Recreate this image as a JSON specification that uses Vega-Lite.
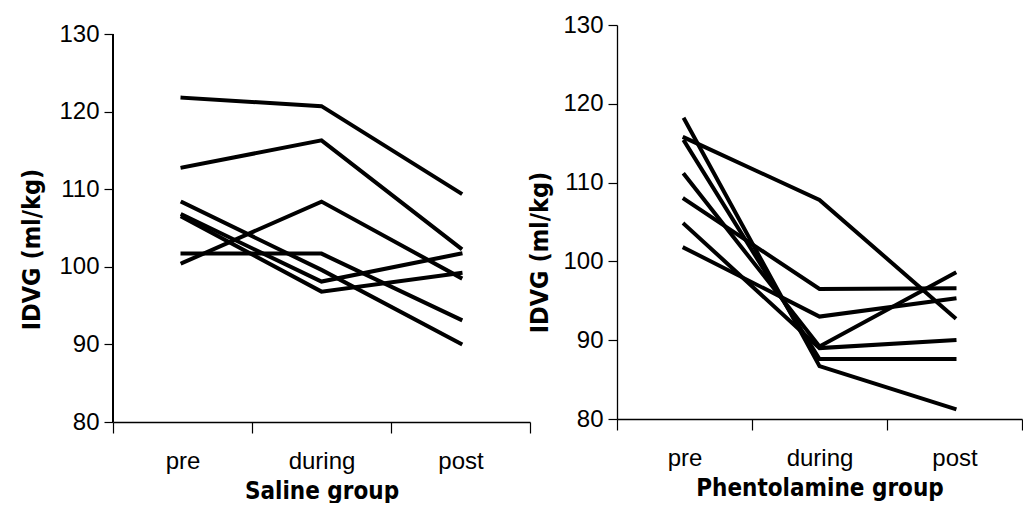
{
  "$schema": "https://vega.github.io/schema/vega-lite/v6.json",
  "background": "white",
  "padding": {"left": 19, "top": 13, "right": 0, "bottom": 0},
  "spacing": -4,
  "datasets": {
    "saline": [
      {"subject": "S1", "phase": "pre", "value": 121.8},
      {"subject": "S1", "phase": "during", "value": 120.7},
      {"subject": "S1", "phase": "post", "value": 109.5},
      {"subject": "S2", "phase": "pre", "value": 112.8},
      {"subject": "S2", "phase": "during", "value": 116.3},
      {"subject": "S2", "phase": "post", "value": 102.4},
      {"subject": "S3", "phase": "pre", "value": 100.5},
      {"subject": "S3", "phase": "during", "value": 108.4},
      {"subject": "S3", "phase": "post", "value": 98.6},
      {"subject": "S4", "phase": "pre", "value": 101.7},
      {"subject": "S4", "phase": "during", "value": 101.7},
      {"subject": "S4", "phase": "post", "value": 93.2},
      {"subject": "S5", "phase": "pre", "value": 108.3},
      {"subject": "S5", "phase": "during", "value": 99.6},
      {"subject": "S5", "phase": "post", "value": 90.1},
      {"subject": "S6", "phase": "pre", "value": 106.7},
      {"subject": "S6", "phase": "during", "value": 98.1},
      {"subject": "S6", "phase": "post", "value": 101.7},
      {"subject": "S7", "phase": "pre", "value": 106.4},
      {"subject": "S7", "phase": "during", "value": 96.8},
      {"subject": "S7", "phase": "post", "value": 99.2}
    ],
    "phentolamine": [
      {"subject": "P1", "phase": "pre", "value": 118.0},
      {"subject": "P1", "phase": "during", "value": 86.7},
      {"subject": "P1", "phase": "post", "value": 81.3},
      {"subject": "P2", "phase": "pre", "value": 115.2},
      {"subject": "P2", "phase": "during", "value": 87.6},
      {"subject": "P2", "phase": "post", "value": 87.6},
      {"subject": "P3", "phase": "pre", "value": 111.0},
      {"subject": "P3", "phase": "during", "value": 89.2},
      {"subject": "P3", "phase": "post", "value": 98.5},
      {"subject": "P4", "phase": "pre", "value": 104.7},
      {"subject": "P4", "phase": "during", "value": 89.0},
      {"subject": "P4", "phase": "post", "value": 90.0},
      {"subject": "P5", "phase": "pre", "value": 107.9},
      {"subject": "P5", "phase": "during", "value": 96.5},
      {"subject": "P5", "phase": "post", "value": 96.6},
      {"subject": "P6", "phase": "pre", "value": 101.7},
      {"subject": "P6", "phase": "during", "value": 93.0},
      {"subject": "P6", "phase": "post", "value": 95.3},
      {"subject": "P7", "phase": "pre", "value": 115.7},
      {"subject": "P7", "phase": "during", "value": 107.8},
      {"subject": "P7", "phase": "post", "value": 92.9}
    ]
  },
  "config": {
    "view": {"stroke": null},
    "axis": {
      "domainColor": "black",
      "domainWidth": 1.3,
      "tickColor": "black",
      "tickWidth": 1.2,
      "grid": false,
      "labelColor": "black",
      "labelFont": "Liberation Sans",
      "labelFontSize": 24,
      "titleColor": "black",
      "titleFont": "DejaVu Sans Condensed",
      "titleFontSize": 24,
      "titleFontWeight": "bold"
    }
  },
  "hconcat": [
    {
      "width": 417,
      "height": 397,
      "data": {"name": "saline"},
      "encoding": {
        "x": {
          "field": "phase", "type": "ordinal",
          "scale": {"domain": ["pre", "during", "post"], "paddingInner": 0, "paddingOuter": 0},
          "axis": {"title": "Saline group", "labelAngle": 0, "tickBand": "extent", "tickSize": 11, "labelPadding": 16, "titlePadding": 6}
        },
        "y": {
          "field": "value", "type": "quantitative",
          "scale": {"domain": [80, 131.16], "nice": false, "zero": false},
          "axis": {"title": "IDVG (ml/kg)", "domain": false, "values": [80, 90, 100, 110, 120, 130], "tickSize": 9, "labelPadding": 5, "titlePadding": 14, "titleY": 224, "titleFontSize": 25}
        }
      },
      "layer": [
        {
          "mark": {"type": "line", "color": "black", "strokeWidth": 4, "strokeCap": "square"},
          "encoding": {"detail": {"field": "subject"}}
        },
        {
          "mark": {"type": "rule", "color": "black", "strokeWidth": 1.3},
          "encoding": {
            "x": {"datum": "pre", "type": "ordinal", "bandPosition": 0},
            "y": {"datum": 80, "type": "quantitative"},
            "y2": {"datum": 130}
          }
        }
      ]
    },
    {
      "width": 405,
      "height": 394,
      "data": {"name": "phentolamine"},
      "mark": {"type": "line", "color": "black", "strokeWidth": 4, "strokeCap": "square"},
      "encoding": {
        "x": {
          "field": "phase", "type": "ordinal",
          "scale": {"domain": ["pre", "during", "post"], "paddingInner": 0, "paddingOuter": 0},
          "axis": {"title": "Phentolamine group", "labelAngle": 0, "tickBand": "extent", "tickSize": 11, "labelPadding": 16, "titlePadding": 6}
        },
        "y": {
          "field": "value", "type": "quantitative",
          "scale": {"domain": [80, 130], "nice": false, "zero": false},
          "axis": {"title": "IDVG (ml/kg)", "values": [80, 90, 100, 110, 120, 130], "tickSize": 9, "labelPadding": 5, "titlePadding": 10, "titleY": 227, "titleFontSize": 25}
        },
        "detail": {"field": "subject"}
      }
    }
  ]
}
